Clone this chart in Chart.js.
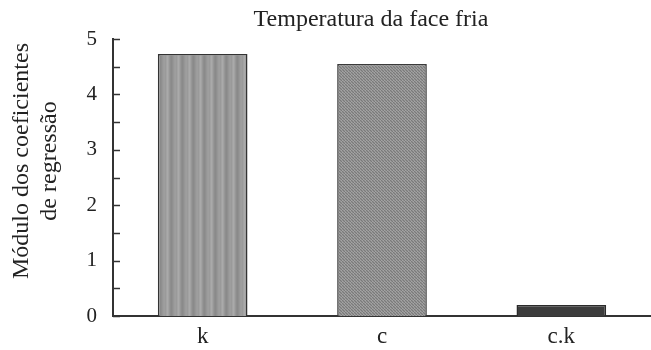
<!DOCTYPE html>
<html>
<head>
<meta charset="utf-8">
<script src="https://cdn.jsdelivr.net/npm/chart.js@4.4.1/dist/chart.umd.min.js"></script>
<style>
  html, body { margin: 0; padding: 0; background: #fff; }
  #wrap { width: 651px; height: 350px; position: relative; }
</style>
</head>
<body>
<div id="wrap"><canvas id="chart" width="651" height="350"></canvas></div>
<script>
// Regression coefficient magnitudes for the cold-face temperature model
const categories = ['k', 'c', 'c.k'];
const coefficientValues = [4.73, 4.55, 0.2];
const yTickValues = [0, 1, 2, 3, 4, 5];
const chartTitle = 'Temperatura da face fria';
const yAxisTitle = ['Módulo dos coeficientes', 'de regressão'];

const SERIF = "'Liberation Serif', 'DejaVu Serif', serif";

// Fill patterns for the three bars
function stripePattern() {
  const c = document.createElement('canvas');
  c.width = 11; c.height = 4;
  const g = c.getContext('2d');
  const cols = ['#9a9a9a','#a3a3a3','#aaaaaa','#a2a2a2','#979797','#8e8e8e','#8a8a8a','#8f8f8f','#969696','#9c9c9c','#9e9e9e'];
  cols.forEach((col, i) => { g.fillStyle = col; g.fillRect(i, 0, 1, 4); });
  return g.createPattern(c, 'repeat');
}
function crossPattern() {
  const c = document.createElement('canvas');
  c.width = 3; c.height = 3;
  const g = c.getContext('2d');
  g.fillStyle = '#949494'; g.fillRect(0, 0, 3, 3);
  g.fillStyle = '#7a7a7a';
  g.fillRect(0, 0, 1, 1); g.fillRect(1, 1, 1, 1); g.fillRect(2, 2, 1, 1);
  g.fillStyle = '#a4a4a4';
  g.fillRect(2, 0, 1, 1); g.fillRect(0, 2, 1, 1);
  return g.createPattern(c, 'repeat');
}

// Inward tick marks on the y axis (every half unit), the title centred over
// the plot area, and the rotated two-line y-axis title
const axisDecor = {
  id: 'axisDecor',
  afterDraw(chart) {
    const { ctx, chartArea, scales: { y } } = chart;
    const x0 = y.right;
    ctx.save();
    ctx.strokeStyle = '#333';
    ctx.lineWidth = 1.5;
    for (let v = y.min; v <= y.max + 1e-9; v += 0.5) {
      const py = Math.round(y.getPixelForValue(v)) + 0.5;
      ctx.beginPath();
      ctx.moveTo(x0, py);
      ctx.lineTo(x0 + 7, py);
      ctx.stroke();
    }
    ctx.fillStyle = '#222';
    ctx.font = '24px ' + SERIF;
    ctx.textAlign = 'center';
    ctx.textBaseline = 'middle';
    ctx.fillText(chartTitle, (chartArea.left + chartArea.right) / 2 - 11, 20);
    ctx.translate(0, 161);
    ctx.rotate(-Math.PI / 2);
    ctx.fillText(yAxisTitle[0], 0, 22);
    ctx.fillText(yAxisTitle[1], 0, 50);
    ctx.restore();
  }
};

const ctx = document.getElementById('chart').getContext('2d');
new Chart(ctx, {
  type: 'bar',
  data: {
    labels: categories,
    datasets: [{
      data: coefficientValues,
      backgroundColor: [stripePattern(), crossPattern(), '#3c3c3c'],
      borderColor: ['#333', '#3a3a3a', '#2a2a2a'],
      borderWidth: 1.5,
      borderSkipped: 'bottom',
      barPercentage: 0.5,
      categoryPercentage: 1.0
    }]
  },
  options: {
    responsive: false,
    animation: false,
    layout: { padding: { left: 0, right: 0, top: 39, bottom: 0 } },
    plugins: {
      legend: { display: false },
      tooltip: { enabled: false },
      title: { display: false }
    },
    scales: {
      x: {
        grid: { display: false, drawTicks: false },
        border: { display: true, color: '#333', width: 2 },
        ticks: {
          color: '#222',
          padding: 7,
          font: { family: SERIF, size: 23 }
        },
        afterFit(scale) { scale.height = 34; }
      },
      y: {
        min: 0,
        max: 5,
        afterBuildTicks(scale) { scale.ticks = yTickValues.map(v => ({ value: v })); },
        grid: { display: false, drawTicks: false },
        border: { display: true, color: '#333', width: 2 },
        ticks: {
          color: '#222',
          padding: 16,
          font: { family: SERIF, size: 21 }
        },
        afterFit(scale) { scale.width = 113; }
      }
    }
  },
  plugins: [axisDecor]
});
</script>
</body>
</html>
